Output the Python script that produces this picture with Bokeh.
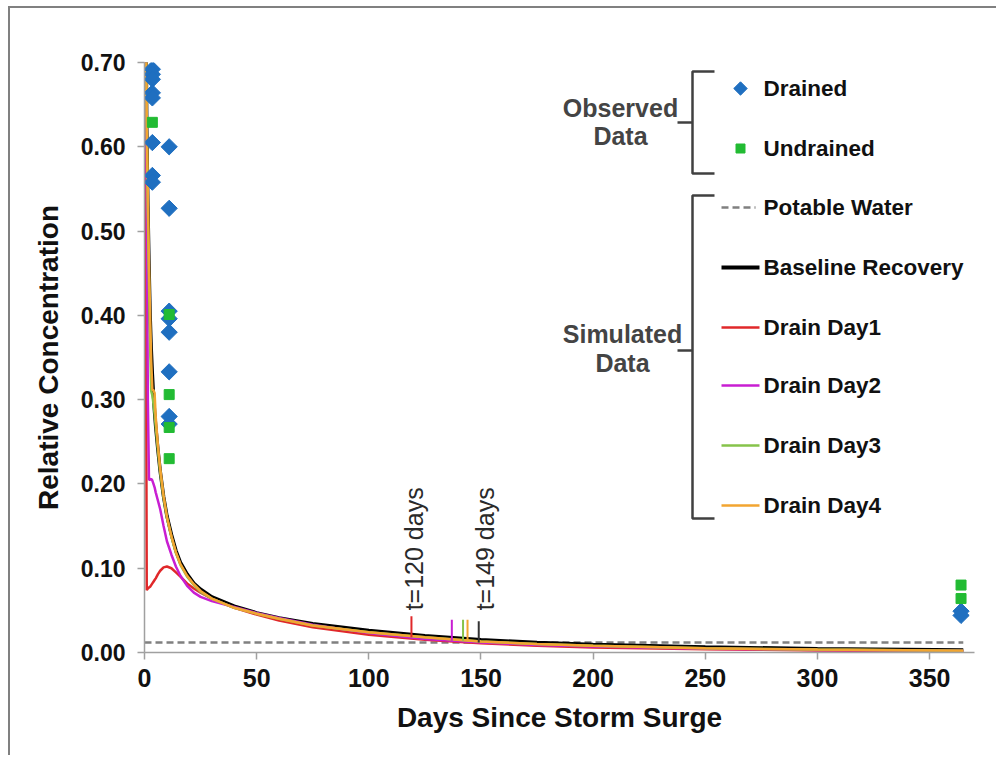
from bokeh.plotting import figure
from bokeh.models import Range1d, FixedTicker, NumeralTickFormatter
from bokeh.core.properties import value
from bokeh.embed import file_html
from bokeh.resources import INLINE

# ---------------- data ----------------
days = [0, 1, 1.5, 2, 2.5, 3, 3.5, 4, 4.5, 5, 6, 7, 8.5, 10, 12, 14, 16, 19, 22, 25,
        30, 40, 50, 60, 75, 100, 125, 150, 175, 200, 250, 300, 365]

baseline = [1.0, 0.62, 0.53, 0.46, 0.40, 0.36, 0.33, 0.305, 0.285, 0.268, 0.24, 0.215,
            0.185, 0.162, 0.14, 0.121, 0.107, 0.093, 0.082, 0.075, 0.066, 0.055, 0.047,
            0.041, 0.034, 0.026, 0.020, 0.015, 0.012, 0.0095, 0.0065, 0.0045, 0.003]
drain_day1 = [1.0, 0.074, 0.076, 0.077, 0.078, 0.080, 0.082, 0.084, 0.086, 0.088, 0.093,
              0.097, 0.101, 0.102, 0.100, 0.095, 0.090, 0.082, 0.076, 0.071, 0.064, 0.053,
              0.045, 0.038, 0.030, 0.021, 0.015, 0.011, 0.008, 0.006, 0.004, 0.0025, 0.0015]
drain_day2 = [1.0, 0.55, 0.30, 0.205, 0.205, 0.206, 0.204, 0.200, 0.196, 0.190, 0.180,
              0.170, 0.150, 0.132, 0.116, 0.102, 0.091, 0.079, 0.071, 0.066, 0.061, 0.054,
              0.047, 0.041, 0.033, 0.023, 0.016, 0.012, 0.009, 0.007, 0.0045, 0.003, 0.002]
drain_day3 = [1.0, 0.62, 0.52, 0.44, 0.37, 0.31, 0.305, 0.295, 0.283, 0.268, 0.240,
              0.214, 0.184, 0.160, 0.137, 0.118, 0.104, 0.090, 0.080, 0.072, 0.064, 0.053,
              0.046, 0.040, 0.032, 0.024, 0.018, 0.013, 0.010, 0.008, 0.005, 0.0035, 0.002]
drain_day4 = [1.0, 0.63, 0.54, 0.46, 0.40, 0.345, 0.312, 0.311, 0.308, 0.280, 0.245,
              0.218, 0.186, 0.161, 0.138, 0.119, 0.105, 0.091, 0.081, 0.073, 0.064, 0.053,
              0.046, 0.040, 0.032, 0.024, 0.018, 0.013, 0.010, 0.008, 0.005, 0.0035, 0.002]

potable_days = [0, 365]
potable_level = [0.012, 0.012]

drained_days = [3.5, 3.5, 3.5, 3.5, 3.5, 3.5, 3.5, 3.5,
                11, 11, 11, 11, 11, 11, 11, 11, 364, 364]
drained_conc = [0.692, 0.686, 0.680, 0.664, 0.658, 0.605, 0.566, 0.558,
                0.600, 0.527, 0.405, 0.396, 0.380, 0.333, 0.280, 0.271, 0.049, 0.044]
undrained_days = [3.5, 11, 11, 11, 11, 364, 364]
undrained_conc = [0.629, 0.401, 0.306, 0.267, 0.230, 0.080, 0.064]

# recovery-time marks (day, bottom, top)
mark_days = [119, 137, 142, 144, 149]
mark_low = [0.018, 0.014, 0.014, 0.014, 0.012]
mark_high = [0.043, 0.039, 0.039, 0.039, 0.037]
mark_colors = ["#e0282a", "#c81ed2", "#86c34a", "#f2a531", "#333333"]
mark_labels = ["t=120 days", "t=149 days"]
mark_label_days = [120, 152]

x_ticks = [0, 50, 100, 150, 200, 250, 300, 350]
y_ticks = [0.0, 0.1, 0.2, 0.3, 0.4, 0.5, 0.6, 0.7]

# ---------------- layout ----------------
OX, OY = 10, 8                              # page offset of the canvas (margin + border)
W, H = 988, 749
FL, FR, FT, FB = 144 - OX, 974 - OX, 62 - OY, 652 - OY   # frame edges in figure px
XMAX, YMAX = 370, 0.7


def dx(px):   # page px -> data x
    return (px - OX - FL) / (FR - FL) * XMAX


def dy(py):   # page py -> data y
    return (FB - (py - OY)) / (FB - FT) * YMAX


p = figure(width=W, height=H, x_range=Range1d(0, XMAX), y_range=Range1d(0, YMAX),
           output_backend="svg", toolbar_location=None,
           min_border_left=FL, min_border_right=W - FR,
           min_border_top=FT, min_border_bottom=H - FB)
p.styles = {"margin-left": "8px", "margin-top": "6px",
            "border-left": "2px solid #808080", "border-top": "2px solid #808080"}
p.outline_line_color = None
p.xgrid.visible = False
p.ygrid.visible = False
p.background_fill_color = "white"
p.border_fill_color = "white"

FONT = "Liberation Sans"

for ax in (p.xaxis[0], p.yaxis[0]):
    ax.axis_line_color = "#a0a0a0"
    ax.axis_line_width = 1.5
    ax.major_tick_line_color = "#a0a0a0"
    ax.major_tick_line_width = 1.5
    ax.major_tick_out = 7
    ax.major_tick_in = 0
    ax.minor_tick_line_color = None
    ax.major_label_text_font = FONT
    ax.major_label_text_font_style = "bold"
    ax.major_label_text_color = "#111111"
    ax.axis_label_text_font = FONT
    ax.axis_label_text_font_style = "bold"
    ax.axis_label_text_color = "#111111"

p.xaxis.ticker = FixedTicker(ticks=x_ticks)
p.xaxis.major_label_text_font_size = "25px"
p.xaxis.major_label_standoff = 9
p.xaxis.axis_label = "Days Since Storm Surge"
p.xaxis.axis_label_text_font_size = "28px"
p.xaxis.axis_label_standoff = 12

p.yaxis.ticker = FixedTicker(ticks=y_ticks)
p.yaxis.formatter = NumeralTickFormatter(format="0.00")
p.yaxis.major_label_text_font_size = "23px"
p.yaxis.major_label_standoff = 12
p.yaxis.axis_label = "Relative Concentration"
p.yaxis.axis_label_text_font_size = "28px"
p.yaxis.axis_label_standoff = 14

# ---------------- series ----------------
p.line(potable_days, potable_level, line_color="#808080", line_width=2.5, line_dash="7 4")
p.line(days, baseline, line_color="#000000", line_width=3.5)
p.line(days, drain_day1, line_color="#e0282a", line_width=2.5)
p.line(days, drain_day2, line_color="#c81ed2", line_width=2.5)
p.line(days, drain_day3, line_color="#86c34a", line_width=2.5)
p.line(days, drain_day4, line_color="#f2a531", line_width=2.5)

p.segment(x0=mark_days, y0=mark_low, x1=mark_days, y1=mark_high,
          line_color=mark_colors, line_width=2)
p.text(x=mark_label_days, y=[0.05, 0.05], text=mark_labels, angle=1.5708,
       text_font=value(FONT), text_font_size="25px", text_color="#2a2a2a",
       text_align="left", text_baseline="middle")

p.scatter(drained_days, drained_conc, marker="square", angle=0.7854, size=11.5,
          fill_color="#1f6fc0", line_color="#1f6fc0")
p.scatter(undrained_days, undrained_conc, marker="square", size=10,
          fill_color="#22bb33", line_color="#22bb33")

# ---------------- custom bracket legend ----------------
lx0, lx1, tx = 721, 759, 763
row_y = [88, 148, 207, 267, 327, 385, 445, 505]
row_text = ["Drained", "Undrained", "Potable Water", "Baseline Recovery",
            "Drain Day1", "Drain Day2", "Drain Day3", "Drain Day4"]

p.scatter([dx(740)], [dy(row_y[0])], marker="square", angle=0.7854, size=9.5,
          fill_color="#1f6fc0", line_color="#1f6fc0")
p.scatter([dx(740)], [dy(row_y[1])], marker="square", size=9,
          fill_color="#22bb33", line_color="#22bb33")
p.segment(x0=[dx(lx0)], y0=[dy(row_y[2])], x1=[dx(755)], y1=[dy(row_y[2])],
          line_color="#808080", line_width=2.5, line_dash="7 4")
leg_colors = ["#000000", "#e0282a", "#c81ed2", "#86c34a", "#f2a531"]
leg_widths = [4, 2.5, 2.5, 2.5, 2.5]
for yy, c, w in zip(row_y[3:], leg_colors, leg_widths):
    p.segment(x0=[dx(lx0)], y0=[dy(yy)], x1=[dx(lx1)], y1=[dy(yy)],
              line_color=c, line_width=w)
p.text(x=[dx(tx)] * len(row_y), y=[dy(v) for v in row_y], text=row_text,
       text_font=value(FONT), text_font_size="22.5px", text_font_style="bold",
       text_color="#111111", text_align="left", text_baseline="middle")

# brackets
bx, bt, bm = 692, 714, 677
brackets = [(71, 173, 122), (195, 518, 350)]
xs, ys = [], []
for top, bot, mid in brackets:
    xs.append([dx(bt), dx(bx), dx(bx), dx(bt)])
    ys.append([dy(top), dy(top), dy(bot), dy(bot)])
    xs.append([dx(bm), dx(bx)])
    ys.append([dy(mid), dy(mid)])
p.multi_line(xs, ys, line_color="#404040", line_width=2.5)

group_text = ["Observed", "Data", "Simulated", "Data"]
group_x = [620, 620, 622, 622]
group_y = [107, 135, 333, 362]
p.text(x=[dx(v) for v in group_x], y=[dy(v) for v in group_y], text=group_text,
       text_font=value(FONT), text_font_size="25px", text_font_style="bold",
       text_color="#444444", text_align="center", text_baseline="middle")

open("out.html", "w").write(file_html(p, INLINE))
